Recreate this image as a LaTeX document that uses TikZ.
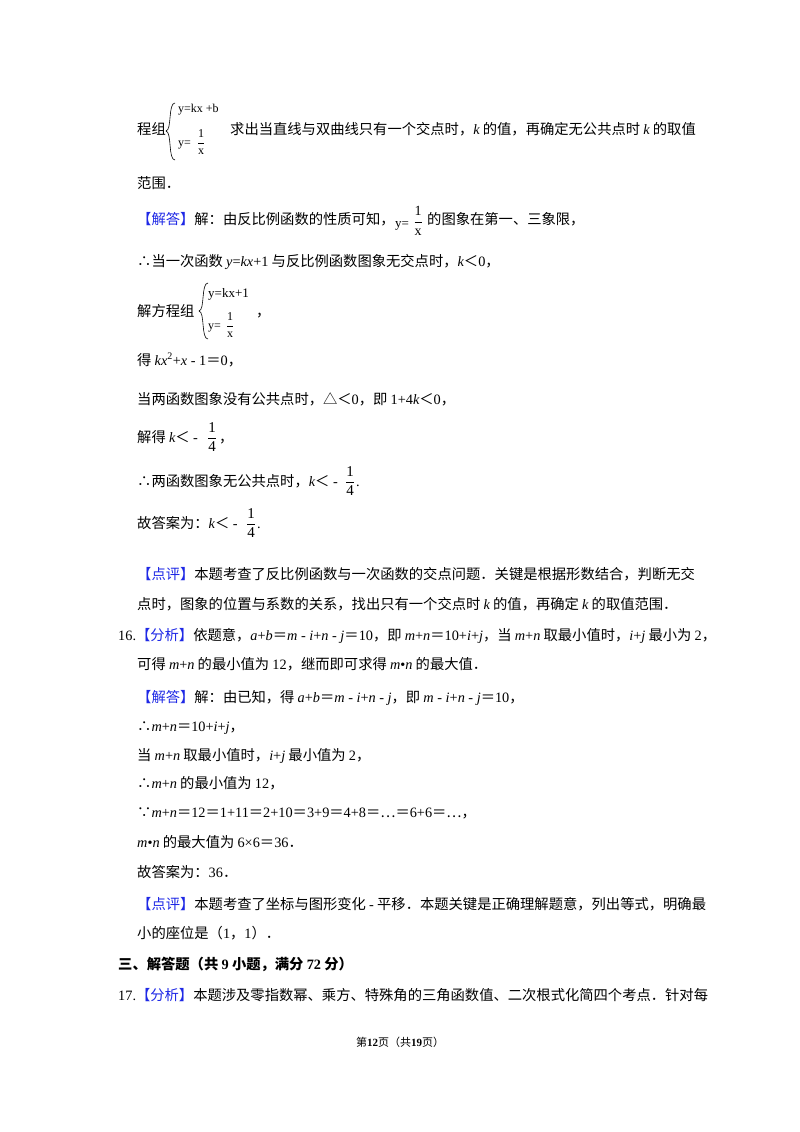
\documentclass[tikz,border=0pt]{standalone}
\usepackage{fontspec}
\usepackage{amsmath}
\setmainfont{Noto Sans CJK SC}
\newfontfamily\lat{Liberation Serif}
\definecolor{tagblue}{RGB}{30,40,230}
\newcommand{\vv}[1]{{\lat\itshape #1}}
\newcommand{\nn}[1]{{\lat #1}}
\newcommand{\tg}[1]{\textcolor{tagblue}{【#1】}}
\newcommand{\fr}[2]{$\dfrac{\mbox{\nn{#1}}}{\mbox{\nn{#2}}}$}
\begin{document}
\begin{tikzpicture}[x=1pt,y=-1pt,
  ln/.style={anchor=base west,inner sep=0pt,font=\fontsize{14.3}{16}\selectfont}]
\useasboundingbox (0,0) rectangle (800,1132);
\fill[white] (0,0) rectangle (800,1132);
% system 1
\node[ln] (a1) at (137,134) {程组};
\draw[line width=0.6pt] (175,103) .. controls (168,103) and (172,130) .. (166,131) .. controls (172,132) and (168,160) .. (175,160);
\node[ln,font=\fontsize{12}{12}\selectfont\lat] (s1) at (178,112) {y=kx +b};
\node[ln,font=\fontsize{12}{12}\selectfont\lat] (s2) at (178,146) {y=};
\node[inner sep=0pt,font=\fontsize{12}{12}\selectfont] (s3) at (201,142) {\fr{1}{x}};
\node[ln] (a2) at (230,134) {求出当直线与双曲线只有一个交点时，\vv{k} 的值，再确定无公共点时 \vv{k} 的取值};
\node[ln] (a3) at (137,188) {范围．};
\node[ln] (a4) at (137,224) {\tg{解答}解：由反比例函数的性质可知，};
\node[ln,font=\fontsize{13}{14}\selectfont\lat] (a5) at (395,227) {y=};
\node[inner sep=0pt,font=\fontsize{14}{14}\selectfont] (a6) at (418,221) {\fr{1}{x}};
\node[ln] (a7) at (427,224) {的图象在第一、三象限，};
\node[ln] (b1) at (137,266) {∴当一次函数 \vv{y}\nn{=}\vv{kx}\nn{+1} 与反比例函数图象无交点时，\vv{k}＜\nn{0}，};
% system 2
\node[ln] (b2) at (137,316) {解方程组};
\draw[line width=0.6pt] (208,283) .. controls (201,283) and (205,310) .. (199,311) .. controls (205,312) and (201,339) .. (208,339);
\node[ln,font=\fontsize{13}{13}\selectfont\lat] (b3) at (208,297) {y=kx+1};
\node[ln,font=\fontsize{12}{12}\selectfont\lat] (b4) at (208,329) {y=};
\node[inner sep=0pt,font=\fontsize{12}{12}\selectfont] (b5) at (230,325) {\fr{1}{x}};
\node[ln] (b6) at (256,316) {，};
\node[ln] (c1) at (137,365) {得 \vv{kx}\nn{\textsuperscript{2}+}\vv{x}\nn{ - 1}＝\nn{0}，};
\node[ln] (c2) at (137,404) {当两函数图象没有公共点时，△＜\nn{0}，即 \nn{1+4}\vv{k}＜\nn{0}，};
\node[ln] (c3) at (137,442) {解得 \vv{k}＜\nn{ - }};
\node[inner sep=0pt,font=\fontsize{15}{15}\selectfont] (c4) at (212,437) {\fr{1}{4}};
\node[ln] (c5) at (219,442) {，};
\node[ln] (d1) at (137,486) {∴两函数图象无公共点时，\vv{k}＜\nn{ - }};
\node[inner sep=0pt,font=\fontsize{15}{15}\selectfont] (d2) at (350,481) {\fr{1}{4}};
\node[ln] (d3) at (356,486) {\nn{.}};
\node[ln] (e1) at (137,528) {故答案为：\vv{k}＜\nn{ - }};
\node[inner sep=0pt,font=\fontsize{15}{15}\selectfont] (e2) at (251,523) {\fr{1}{4}};
\node[ln] (e3) at (257,528) {\nn{.}};
\node[ln] (f1) at (137,579) {\tg{点评}本题考查了反比例函数与一次函数的交点问题．关键是根据形数结合，判断无交};
\node[ln] (f2) at (137,609) {点时，图象的位置与系数的关系，找出只有一个交点时 \vv{k} 的值，再确定 \vv{k} 的取值范围．};
\node[ln] (g1) at (118,640) {\nn{16.}\tg{分析}依题意，\vv{a}\nn{+}\vv{b}＝\vv{m}\nn{ - }\vv{i}\nn{+}\vv{n}\nn{ - }\vv{j}＝\nn{10}，即 \vv{m}\nn{+}\vv{n}＝\nn{10+}\vv{i}\nn{+}\vv{j}，当 \vv{m}\nn{+}\vv{n} 取最小值时，\vv{i}\nn{+}\vv{j} 最小为 \nn{2}，};
\node[ln] (g2) at (137,669) {可得 \vv{m}\nn{+}\vv{n} 的最小值为 \nn{12}，继而即可求得 \vv{m}\nn{•}\vv{n} 的最大值．};
\node[ln] (h1) at (137,702) {\tg{解答}解：由已知，得 \vv{a}\nn{+}\vv{b}＝\vv{m}\nn{ - }\vv{i}\nn{+}\vv{n}\nn{ - }\vv{j}，即 \vv{m}\nn{ - }\vv{i}\nn{+}\vv{n}\nn{ - }\vv{j}＝\nn{10}，};
\node[ln] (h2) at (137,731) {∴\vv{m}\nn{+}\vv{n}＝\nn{10+}\vv{i}\nn{+}\vv{j}，};
\node[ln] (h3) at (137,760) {当 \vv{m}\nn{+}\vv{n} 取最小值时，\vv{i}\nn{+}\vv{j} 最小值为 \nn{2}，};
\node[ln] (h4) at (137,788) {∴\vv{m}\nn{+}\vv{n} 的最小值为 \nn{12}，};
\node[ln] (h5) at (137,817) {∵\vv{m}\nn{+}\vv{n}＝\nn{12}＝\nn{1+11}＝\nn{2+10}＝\nn{3+9}＝\nn{4+8}＝…＝\nn{6+6}＝…，};
\node[ln] (h6) at (137,847) {\vv{m}\nn{•}\vv{n} 的最大值为 \nn{6×6}＝\nn{36}．};
\node[ln] (h7) at (137,877) {故答案为：\nn{36}．};
\node[ln] (i1) at (137,909) {\tg{点评}本题考查了坐标与图形变化 \nn{-} 平移．本题关键是正确理解题意，列出等式，明确最};
\node[ln] (i2) at (137,938) {小的座位是（\nn{1}，\nn{1}）．};
\node[ln,font=\fontsize{14.3}{16}\selectfont\bfseries] (j1) at (118,969) {三、解答题（共 \nn{\bfseries 9} 小题，满分 \nn{\bfseries 72} 分）};
\node[ln] (k1) at (118,1000) {\nn{17.}\tg{分析}本题涉及零指数幂、乘方、特殊角的三角函数值、二次根式化简四个考点．针对每};
\node[anchor=base,inner sep=0pt,font=\fontsize{11}{12}\selectfont] (p) at (400,1046) {第\textbf{\nn{12}}页（共\textbf{\nn{19}}页）};
\end{tikzpicture}
\end{document}
